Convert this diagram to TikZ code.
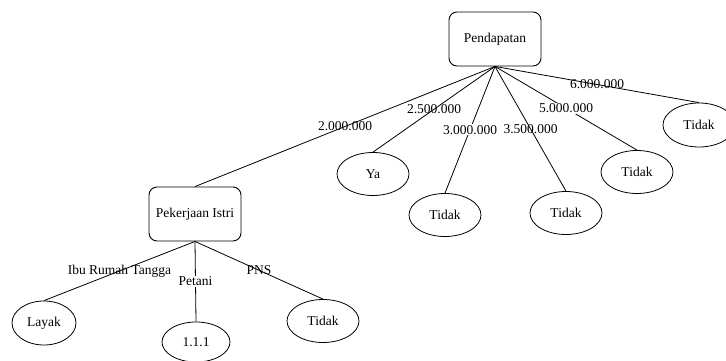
\documentclass[tikz,border=0pt]{standalone}
\usepackage{fontspec}
\setmainfont{Liberation Serif}
\usetikzlibrary{shapes.geometric}

\begin{document}
\begin{tikzpicture}[
         x=1pt, y=-1pt,
         font=\fontsize{13.5}{16}\selectfont,
         attr/.style={draw, rounded corners=8pt, minimum width=92pt, minimum height=54pt, line width=0.9pt},
         leaf/.style={ellipse, draw, inner sep=0pt, minimum width=72pt, minimum height=43pt, line width=0.8pt},
         branch/.style={line width=0.8pt},
         value/.style={inner sep=1pt},
         gap/.style={value, fill=white}
      ]
         \useasboundingbox (0,0) rectangle (726,361);

         % Nodes for attributes
         \node[attr] (pendapatan) at (495,39) {Pendapatan};
         \node[attr] (istri) at (195,214) {Pekerjaan Istri};

         % Leaves
         \node[leaf] (ya) at (373,174) {Ya};
         \node[leaf] (tidaka) at (445,215) {Tidak};
         \node[leaf] (tidakb) at (566,213) {Tidak};
         \node[leaf] (tidakc) at (637,172) {Tidak};
         \node[leaf, minimum height=44pt] (tidakd) at (699,125) {Tidak};
         \node[leaf, minimum width=64pt, minimum height=44pt] (layak) at (44,323) {Layak};
         \node[leaf, minimum width=68pt, minimum height=40pt] (satu) at (196,342) {1.1.1};
         \node[leaf] (tidake) at (323,321) {Tidak};

         % Branches with values
         \draw[branch] (pendapatan.south) -- node[value] {2.000.000} (istri.north);
         \draw[branch] (pendapatan.south) -- node[value] {2.500.000} (ya.north);
         \draw[branch] (pendapatan.south) -- node[gap] {3.000.000} (tidaka.north);
         \draw[branch] (pendapatan.south) -- node[value] {3.500.000} (tidakb.north);
         \draw[branch] (pendapatan.south) -- node[gap] {5.000.000} (tidakc.north);
         \draw[branch] (pendapatan.south) -- node[value] {6.000.000} (tidakd.north);

         \draw[branch] (istri.south) -- node[value] {Ibu Rumah Tangga} (layak.north);
         \draw[branch] (istri.south) -- node[gap] {Petani} (satu.north);
         \draw[branch] (istri.south) -- node[value] {PNS} (tidake.north);

      \end{tikzpicture}
\end{document}
